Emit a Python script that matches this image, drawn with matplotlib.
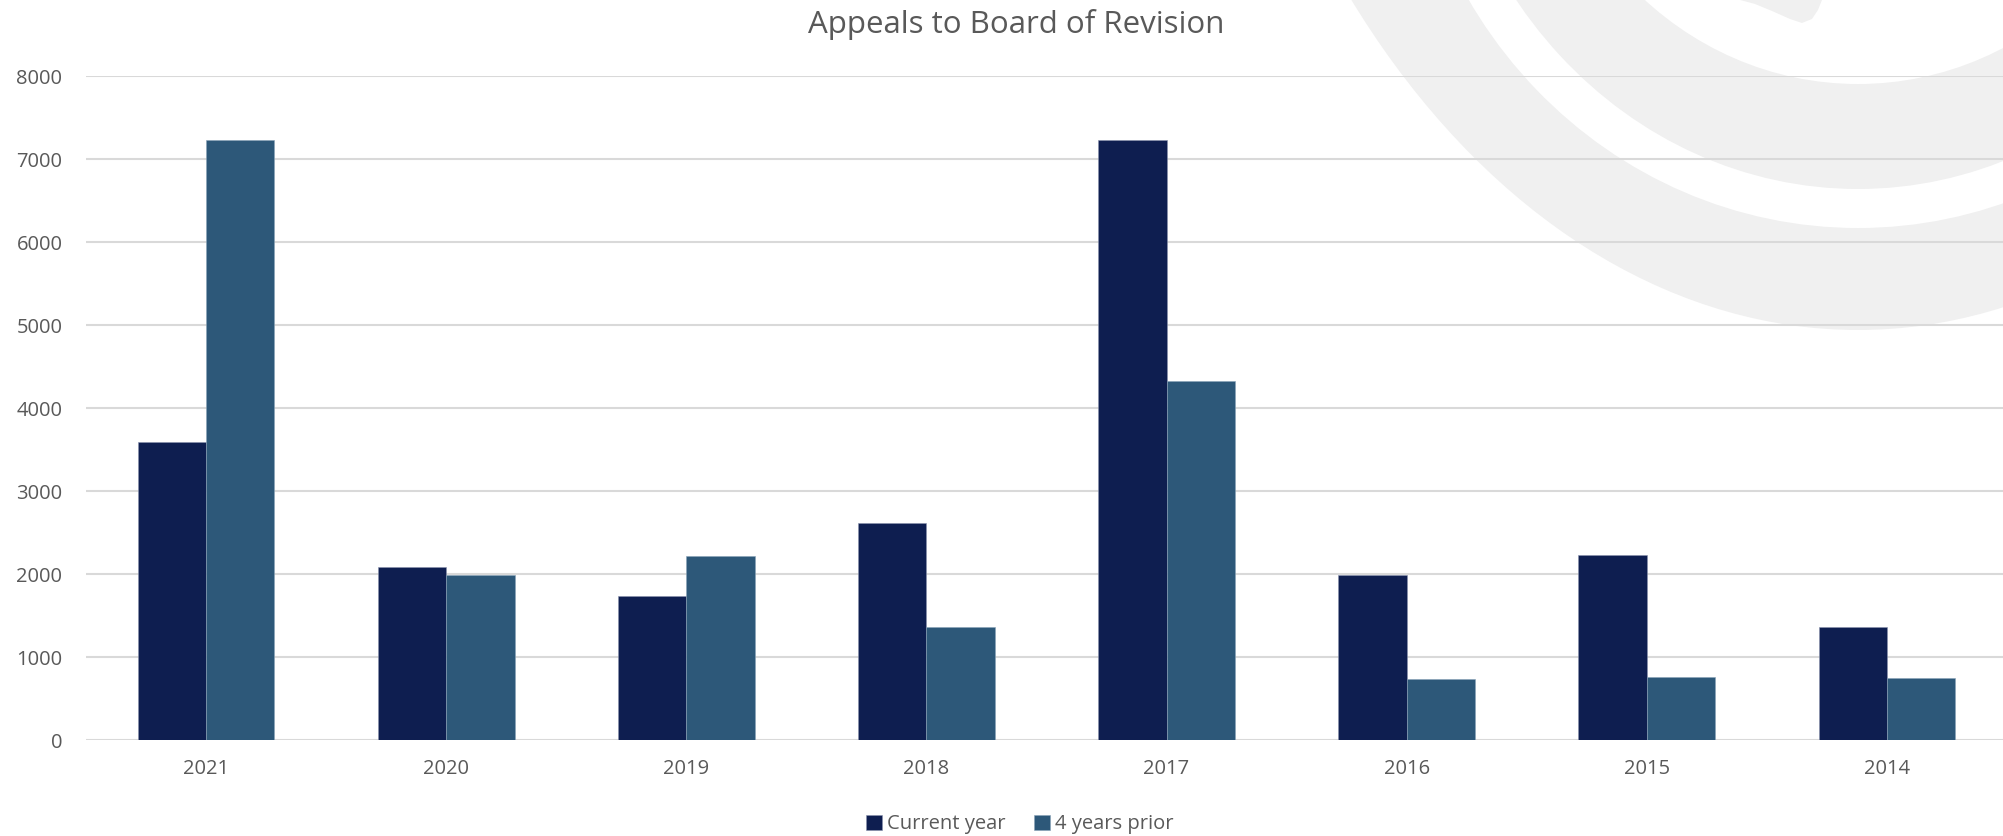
import numpy as np
import matplotlib
matplotlib.use("Agg")
import matplotlib.pyplot as plt
from matplotlib.patches import Ellipse, Polygon

plt.rcParams['font.family'] = ['Open Sans', 'DejaVu Sans']

years = ['2021', '2020', '2019', '2018', '2017', '2016', '2015', '2014']
current_year = [3590, 2090, 1740, 2620, 7230, 1990, 2225, 1366]
four_years_prior = [7230, 1990, 2222, 1366, 4330, 740, 755, 743]
series_names = ['Current year', '4 years prior']
colors = ['#0e1e50', '#2d5879']
text_color = '#595959'
grid_color = '#d9d9d9'

W, H = 2003, 836
fig = plt.figure(figsize=(W / 100, H / 100), dpi=100)

# light grey watermark swirl in the background (pixel coordinates)
bg = fig.add_axes([0, 0, 1, 1], zorder=0)
bg.set_xlim(0, W)
bg.set_ylim(H, 0)
bg.axis('off')
wm = '#f0f0f0'
for (cy, a, b, fc) in [(-632, 672, 962, wm), (-245, 455, 473, 'white'),
                       (-268, 422, 457, wm), (-254, 323, 338, 'white')]:
    bg.add_patch(Ellipse((1858, cy), 2 * a, 2 * b, facecolor=fc, edgecolor='none'))
tongue = [(1740, 0), (1755, 4), (1772, 11), (1790, 19), (1802, 23),
          (1812, 19), (1818, 10), (1822, 0)]
bg.add_patch(Polygon(tongue, closed=True, facecolor=wm, edgecolor='none'))

# main chart
ax = fig.add_axes([86 / W, (H - 740) / H, (2007 - 86) / W, (740 - 76.3) / H], zorder=1)
ax.set_facecolor('none')
x = np.arange(len(years))
w = 0.285
ax.bar(x - w / 2, current_year, w, color=colors[0], label=series_names[0],
       edgecolor='#8a93ad', linewidth=0.4, zorder=3)
ax.bar(x + w / 2, four_years_prior, w, color=colors[1], label=series_names[1],
       edgecolor='#8aa3b8', linewidth=0.4, zorder=3)

ax.set_xlim(-0.5, len(years) - 0.5)
ax.set_ylim(0, 8000)
ax.set_yticks(np.arange(0, 8001, 1000))
ax.set_xticks(x)
ax.set_xticklabels(years)
ax.yaxis.grid(True, color=grid_color, linewidth=1.5, zorder=0)
ax.set_axisbelow(True)
for s in ax.spines.values():
    s.set_visible(False)
ax.tick_params(axis='both', length=0, labelsize=14.5, labelcolor=text_color)
ax.tick_params(axis='y', pad=17)
ax.tick_params(axis='x', pad=14)

fig.text(1016 / W, 1 - 33.3 / H, 'Appeals to Board of Revision', ha='center',
         va='baseline', fontsize=22.5, color=text_color)

fig.legend(loc='center', bbox_to_anchor=(1020 / W, 1 - 824.5 / H), ncol=2,
           frameon=False, fontsize=14.5, labelcolor=text_color,
           handlelength=0.8, handleheight=0.8, handletextpad=0.25,
           columnspacing=1.4)

fig.savefig('out.png', dpi=100)
plt.close()
